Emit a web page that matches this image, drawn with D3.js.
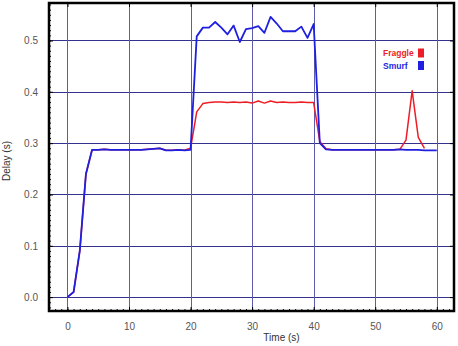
<!DOCTYPE html>
<html>
<head>
<meta charset="utf-8">
<script src="https://cdn.jsdelivr.net/npm/d3@7"></script>
<style>
  body { margin: 0; background: #fff; }
  svg { display: block; }
  .tick text { font-family: "Liberation Sans", Arial, sans-serif; font-size: 10px; fill: #555; }
</style>
</head>
<body>
<div id="chart"></div>
<script>
var WIDTH = 458, HEIGHT = 346;

// time in seconds, one sample per second
var time = d3.range(0, 61);

var smurf = [
  0.000, 0.010, 0.090, 0.240, 0.287, 0.287, 0.288, 0.287, 0.287, 0.287,
  0.287, 0.287, 0.287, 0.288, 0.289, 0.290, 0.286, 0.286, 0.287, 0.286,
  0.287, 0.508, 0.525, 0.525, 0.536, 0.525, 0.512, 0.529, 0.497, 0.522,
  0.524, 0.528, 0.515, 0.546, 0.533, 0.518, 0.518, 0.518, 0.527, 0.505,
  0.532, 0.300, 0.288, 0.287, 0.287, 0.287, 0.287, 0.287, 0.287, 0.287,
  0.287, 0.287, 0.287, 0.287, 0.288, 0.287, 0.287, 0.287, 0.286, 0.286,
  0.286
];

var fraggle = [
  0.000, 0.010, 0.090, 0.240, 0.287, 0.287, 0.288, 0.287, 0.287, 0.287,
  0.287, 0.287, 0.287, 0.288, 0.289, 0.290, 0.286, 0.286, 0.287, 0.286,
  0.290, 0.361, 0.377, 0.379, 0.380, 0.380, 0.379, 0.380, 0.379, 0.380,
  0.378, 0.382, 0.378, 0.382, 0.379, 0.380, 0.379, 0.379, 0.380, 0.379,
  0.379, 0.303, 0.289, 0.287, 0.287, 0.287, 0.287, 0.287, 0.287, 0.287,
  0.287, 0.287, 0.287, 0.287, 0.288, 0.306, 0.402, 0.311, 0.290
];

var xTicks = [0, 10, 20, 30, 40, 50, 60];
var yTicks = [0.0, 0.1, 0.2, 0.3, 0.4, 0.5];

var series = [
  {name: "Fraggle", values: fraggle, color: "#ee1c25"},
  {name: "Smurf", values: smurf, color: "#1f1fe0"}
];

var pLeft = 49, pRight = 454, pTop = 3, pBottom = 311;

var x = d3.scaleLinear().domain([-3, 62.8]).range([pLeft, pRight]);
var y = d3.scaleLinear().domain([-0.027, 0.573]).range([pBottom, pTop]);

var svg = d3.select("#chart").append("svg")
  .attr("width", WIDTH)
  .attr("height", HEIGHT);

// grid
svg.append("g").selectAll("line")
  .data(yTicks).enter().append("line")
    .attr("x1", pLeft).attr("x2", pRight)
    .attr("y1", function(d) { return Math.round(y(d)) + 0.5; })
    .attr("y2", function(d) { return Math.round(y(d)) + 0.5; })
    .style("stroke", "#33338f")
    .style("stroke-width", 1);

svg.append("g").selectAll("line")
  .data(xTicks).enter().append("line")
    .attr("y1", pTop).attr("y2", pBottom)
    .attr("x1", function(d) { return Math.round(x(d)) + 0.5; })
    .attr("x2", function(d) { return Math.round(x(d)) + 0.5; })
    .style("stroke", "#5c5ca8")
    .style("stroke-width", 1);

// lines (smurf drawn last so it sits on top)
var line = d3.line()
  .x(function(d, i) { return x(time[i]); })
  .y(function(d) { return y(d); });

svg.append("g").selectAll("path")
  .data(series).enter().append("path")
    .attr("d", function(d) { return line(d.values); })
    .style("fill", "none")
    .style("stroke", function(d) { return d.color; })
    .style("stroke-width", function(d, i) { return i ? 1.8 : 1.5; })
    .style("stroke-linejoin", "round");

// minor / major ticks, pointing inward
var minorX = d3.range(-3, 63, 1);
var minorY = d3.range(-0.02, 0.575, 0.01);

svg.append("g").attr("transform", "translate(0," + pBottom + ")")
  .call(d3.axisBottom(x).tickValues(minorX).tickSize(-2).tickFormat(""))
  .call(function(g) { g.select(".domain").remove(); });
svg.append("g").attr("transform", "translate(0," + pBottom + ")")
  .call(d3.axisBottom(x).tickValues(xTicks).tickSize(-4).tickPadding(12).tickFormat(d3.format("d")))
  .call(function(g) { g.select(".domain").remove(); });
svg.append("g").attr("transform", "translate(0," + pTop + ")")
  .call(d3.axisTop(x).tickValues(xTicks).tickSize(-4).tickFormat(""))
  .call(function(g) { g.select(".domain").remove(); });

svg.append("g").attr("transform", "translate(" + pLeft + ",0)")
  .call(d3.axisLeft(y).tickValues(minorY).tickSize(-2).tickFormat(""))
  .call(function(g) { g.select(".domain").remove(); });
svg.append("g").attr("transform", "translate(" + pLeft + ",0)")
  .call(d3.axisLeft(y).tickValues(yTicks).tickSize(-4).tickPadding(11).tickFormat(d3.format(".1f")))
  .call(function(g) { g.select(".domain").remove(); });
svg.append("g").attr("transform", "translate(" + pRight + ",0)")
  .call(d3.axisRight(y).tickValues(yTicks).tickSize(-4).tickFormat(""))
  .call(function(g) { g.select(".domain").remove(); });

svg.selectAll(".tick line").style("stroke", "#000");

// frame
svg.append("rect")
  .attr("x", pLeft).attr("y", pTop)
  .attr("width", pRight - pLeft).attr("height", pBottom - pTop)
  .style("fill", "none")
  .style("stroke", "#000")
  .style("stroke-width", 2.5);

// axis titles
svg.append("text")
  .attr("x", (pLeft + pRight) / 2 + 30)
  .attr("y", 341)
  .attr("text-anchor", "middle")
  .style("font-family", "Liberation Sans, Arial, sans-serif")
  .style("font-size", "10px")
  .style("fill", "#333")
  .text("Time (s)");

svg.append("text")
  .attr("transform", "translate(10,161) rotate(-90)")
  .attr("text-anchor", "middle")
  .style("font-family", "Liberation Sans, Arial, sans-serif")
  .style("font-size", "10px")
  .style("fill", "#333")
  .text("Delay (s)");

// legend
var legend = svg.append("g").selectAll("g")
  .data(series).enter().append("g")
    .attr("transform", function(d, i) { return "translate(0," + (i * 12.5) + ")"; });

legend.append("text")
  .attr("x", 383).attr("y", 56)
  .style("font-family", "Liberation Sans, Arial, sans-serif")
  .style("font-size", "8.5px")
  .style("font-weight", "bold")
  .style("fill", function(d) { return d.color; })
  .text(function(d) { return d.name; });

legend.append("rect")
  .attr("x", 418).attr("y", 48.5)
  .attr("width", 6).attr("height", 9)
  .style("fill", function(d) { return d.color; });
</script>
</body>
</html>
